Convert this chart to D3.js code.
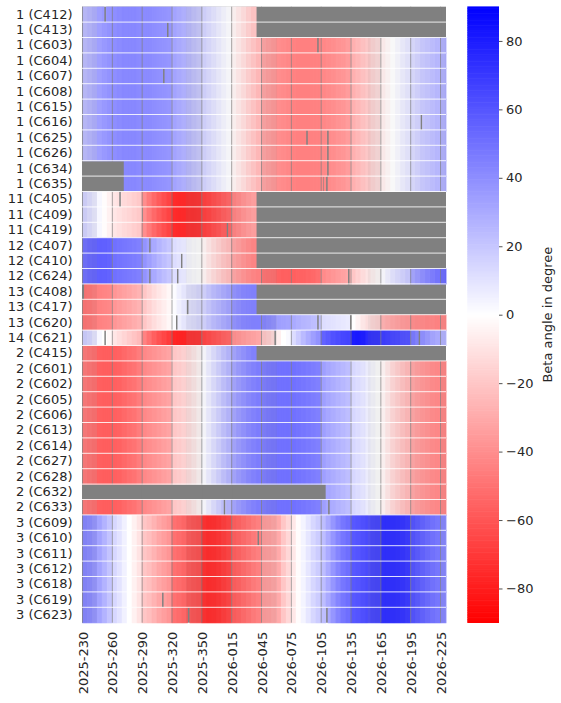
<!DOCTYPE html>
<html>
<head>
<meta charset="utf-8">
<script src="https://cdn.jsdelivr.net/npm/d3@7"></script>
<style>
  body { margin: 0; background: #fff; }
  svg { display: block; }
  text { font-family: "DejaVu Sans", sans-serif; }
</style>
</head>
<body>
<svg id="chart" width="561" height="703"></svg>
<script>
// rows: "<plane> (<satellite>)"
var rowNames = [
  "1 (C412)", "1 (C413)", "1 (C603)", "1 (C604)", "1 (C607)", "1 (C608)",
  "1 (C615)", "1 (C616)", "1 (C625)", "1 (C626)", "1 (C634)", "1 (C635)",
  "11 (C405)", "11 (C409)", "11 (C419)",
  "12 (C407)", "12 (C410)", "12 (C624)",
  "13 (C408)", "13 (C417)", "13 (C620)",
  "14 (C621)",
  "2 (C415)", "2 (C601)", "2 (C602)", "2 (C605)", "2 (C606)", "2 (C613)",
  "2 (C614)", "2 (C627)", "2 (C628)", "2 (C632)", "2 (C633)",
  "3 (C609)", "3 (C610)", "3 (C611)", "3 (C612)", "3 (C618)", "3 (C619)", "3 (C623)"
];

var nDays = 366;        // 2025-230 .. 2026-230
var sampleStep = 5;     // one beta value per 5 days
var tickLabels = ["2025-230", "2025-260", "2025-290", "2025-320", "2025-350", "2026-015",
  "2026-045", "2026-075", "2026-105", "2026-135", "2026-165", "2026-195", "2026-225"];
var tickEvery = 30;
var colorTicks = [-80, -60, -40, -20, 0, 20, 40, 60, 80];

// beta angle (deg) per orbit plane, every 5 days
var plane1 = [24, 26, 29, 34, 36, 38, 40, 41, 42, 42, 42, 41, 41, 41, 40, 39, 38, 37,
  32, 30, 28, 25, 22, 19, 16, 13, 10, 7, 4, 1, -4, -8, -12, -17, -21, -25,
  -33, -35, -37, -40, -41, -42, -44, -45, -45, -45, -44, -44, -42, -41, -40, -38, -37, -35,
  -28, -25, -22, -19, -15, -12, -6, -3, 0, 3, 6, 9, 13, 16, 19, 21, 23, 25, 28, 30];
var plane11 = [16, 12, 8, 3, -1, -5, -9, -11, -13, -15, -17, -19, -40, -47, -53, -58, -62, -66,
  -75, -76, -76, -76, -76, -75, -69, -67, -64, -61, -58, -55, -45, -42, -39, -36, -34, null,
  null, null, null, null, null, null, null, null, null, null, null, null, null, null, null, null, null, null,
  null, null, null, null, null, null, null, null, null, null, null, null, null, null, null, null, null, null, null, null];
var plane12 = [52, 54, 55, 56, 56, 55, 50, 49, 48, 47, 46, 45, 38, 34, 30, 26, 23, 20,
  12, 10, 8, 3, 1, 0, -4, -9, -13, -17, -21, -24, -32, -35, -38, -41, -43, -45,
  -50, -51, -52, -55, -56, -56, -56, -55, -55, -54, -53, -51, -41, -39, -37, -35, -33, -31,
  -20, -16, -12, -9, -5, -2, 2, 6, 10, 13, 16, 19, 32, 36, 40, 43, 46, 49, 53, 55];
var plane13 = [-50, -49, -47, -44, -43, -42, -37, -35, -33, -31, -29, -27, -20, -16, -12, -9, -6, -3,
  1, 5, 8, 11, 12, 14, 16, 20, 24, 27, 30, 33, 39, 41, 43, 44, 45, 45,
  44, 42, 40, 34, 33, 32, 30, 28, 26, 25, 23, 22, 12, 11, 10, 9, 8, 7,
  0, -4, -8, -11, -14, -16, -28, -30, -32, -34, -36, -37, -41, -42, -42, -43, -43, -44, -44, -45];
var plane14 = [18, 15, 10, 3, 0, -3, -9, -12, -15, -18, -21, -24, -44, -50, -56, -61, -65, -69,
  -77, -78, -78, -75, -75, -74, -67, -65, -62, -60, -57, -55, -40, -38, -36, -34, -33, -31,
  -20, -18, -14, -6, 0, 2, 12, 18, 24, 29, 34, 38, 55, 58, 61, 63, 65, 66,
  80, 81, 80, 76, 75, 74, 70, 68, 66, 65, 63, 62, 48, 44, 40, 36, 32, 30, 28, 27];
var plane2 = [-48, -50, -52, -56, -57, -57, -56, -55, -53, -51, -49, -46, -42, -40, -38, -36, -34, -32,
  -20, -18, -16, -12, -8, -4, 2, 7, 12, 17, 22, 26, 32, 36, 39, 42, 44, 46,
  47, 48, 49, 50, 50, 50, 50, 49, 48, 47, 46, 45, 34, 31, 29, 27, 25, 23,
  14, 12, 10, 6, 3, 0, -4, -9, -14, -18, -22, -25, -32, -35, -37, -39, -41, -42, -44, -45];
var plane3 = [44, 42, 38, 32, 27, 21, 14, 10, 5, 0, -5, -10, -20, -23, -27, -31, -34, -37,
  -50, -52, -54, -60, -62, -64, -74, -76, -75, -73, -70, -67, -58, -56, -53, -50, -47, -45,
  -36, -35, -33, -30, -20, -14, -8, -1, 4, 9, 14, 18, 23, 30, 37, 43, 48, 51,
  59, 60, 62, 64, 67, 68, 75, 75, 75, 74, 73, 71, 62, 59, 56, 53, 50, 48, 44, 42];

// day spans with sparse coverage (drawn muted)
var sparseSpans = [[0, 15], [104, 120], [180, 196], [287, 300], [361, 366]];

// missing data: [row, first day, end day)
var missingSpans = [
  ["1 (C412)", 22, 24], ["1 (C412)", 175, 366],
  ["1 (C413)", 85, 87], ["1 (C413)", 175, 366],
  ["1 (C603)", 236, 238], ["1 (C607)", 81, 83], ["1 (C616)", 340, 342],
  ["1 (C625)", 225, 227], ["1 (C625)", 246, 248], ["1 (C626)", 246, 248],
  ["1 (C634)", 0, 42], ["1 (C634)", 246, 248],
  ["1 (C635)", 0, 42], ["1 (C635)", 242, 243], ["1 (C635)", 245, 247],
  ["11 (C405)", 37, 39], ["11 (C409)", 60, 61], ["11 (C419)", 145, 147],
  ["12 (C407)", 67, 69], ["12 (C407)", 175, 366],
  ["12 (C410)", 99, 101], ["12 (C410)", 175, 366],
  ["12 (C624)", 67, 69], ["12 (C624)", 95, 97], ["12 (C624)", 267, 269],
  ["13 (C408)", 0, 2], ["13 (C408)", 175, 366],
  ["13 (C417)", 105, 107], ["13 (C417)", 175, 366],
  ["13 (C620)", 94, 96], ["13 (C620)", 236, 238], ["13 (C620)", 269, 271],
  ["14 (C621)", 22, 24], ["14 (C621)", 193, 195], ["14 (C621)", 338, 340],
  ["2 (C415)", 175, 366], ["2 (C632)", 0, 245],
  ["2 (C633)", 142, 144], ["2 (C633)", 247, 249],
  ["3 (C610)", 176, 178], ["3 (C619)", 80, 82],
  ["3 (C623)", 106, 108], ["3 (C623)", 245, 247]
];

var planeSeries = { "1": plane1, "11": plane11, "12": plane12, "13": plane13,
  "14": plane14, "2": plane2, "3": plane3 };

var svg = d3.select("#chart");
var textColor = "#262626";

var x = d3.scaleLinear().domain([0, nDays]).range([82, 446]);
var y = d3.scaleBand().domain(rowNames).range([6.7, 622.7]);
var color = d3.scaleLinear().domain([-90, 0, 90])
  .range(["#ff0000", "#ffffff", "#0000ff"]).clamp(true);

// NaN colour underneath everything
svg.append("rect")
  .attr("x", x(0)).attr("y", y.range()[0])
  .attr("width", x(nDays) - x(0)).attr("height", y.range()[1] - y.range()[0])
  .attr("fill", "#808080");

var cells = [];
rowNames.forEach(function(name) {
  var vals = planeSeries[name.split(" ")[0]];
  var gaps = missingSpans.filter(function(s) { return s[0] === name; });
  for (var d = 0; d < nDays; d++) {
    var v = vals[Math.floor(d / sampleStep)];
    if (v == null) continue;
    if (gaps.some(function(g) { return d >= g[1] && d < g[2]; })) continue;
    var sparse = sparseSpans.some(function(s) { return d >= s[0] && d < s[1]; });
    cells.push({ name: name, d: d, v: v, sparse: sparse });
  }
});

svg.append("g")
  .selectAll("rect")
  .data(cells)
  .enter().append("rect")
    .attr("x", function(c) { return x(c.d); })
    .attr("y", function(c) { return y(c.name); })
    .attr("width", function(c) { return x(c.d + 1) - x(c.d) + 0.5; })
    .attr("height", y.bandwidth() + 0.5)
    .attr("fill", function(c) { return color(c.v); })
    .attr("fill-opacity", function(c) { return c.sparse ? 0.85 : 1; });

// vertical lines at each date tick
var tickDays = tickLabels.map(function(t, i) { return i * tickEvery; });
svg.append("g")
  .selectAll("line")
  .data(tickDays)
  .enter().append("line")
    .attr("x1", function(d) { return x(d + 0.5); })
    .attr("x2", function(d) { return x(d + 0.5); })
    .attr("y1", y.range()[0]).attr("y2", y.range()[1])
    .attr("stroke", "#808080").attr("stroke-opacity", 0.7).attr("stroke-width", 1);

// thin white row separators
svg.append("g")
  .selectAll("line")
  .data(rowNames.slice(1))
  .enter().append("line")
    .attr("x1", x(0)).attr("x2", x(nDays))
    .attr("y1", function(n) { return y(n); })
    .attr("y2", function(n) { return y(n); })
    .attr("stroke", "#ffffff").attr("stroke-opacity", 0.85).attr("stroke-width", 1);

// y axis
var yAxis = svg.append("g")
  .attr("transform", "translate(" + x(0) + ",0)")
  .call(d3.axisLeft(y).tickSize(0).tickPadding(9.5));
yAxis.select(".domain").remove();
yAxis.selectAll("text").attr("font-size", 13).attr("fill", textColor)
  .style("font-family", "DejaVu Sans");

// x axis, rotated labels
var xAxis = svg.append("g")
  .attr("transform", "translate(0," + y.range()[1] + ")")
  .call(d3.axisBottom(x)
    .tickValues(tickDays.map(function(d) { return d + 0.5; }))
    .tickFormat(function(d, i) { return tickLabels[i]; })
    .tickSize(0));
xAxis.select(".domain").remove();
xAxis.selectAll("text")
  .attr("transform", "rotate(-90)")
  .attr("x", -9).attr("y", 0).attr("dy", "0.35em")
  .style("text-anchor", "end")
  .attr("font-size", 13).attr("fill", textColor)
  .style("font-family", "DejaVu Sans");

// colour bar
var cbX = 467.3, cbW = 31.7;
var cb = d3.scaleLinear().domain([-90, 90]).range([y.range()[1], y.range()[0]]);
var cbSteps = d3.range(-90, 90, 0.5);
svg.append("g")
  .selectAll("rect")
  .data(cbSteps)
  .enter().append("rect")
    .attr("x", cbX)
    .attr("y", function(v) { return cb(v + 0.5) - 0.3; })
    .attr("width", cbW)
    .attr("height", function(v) { return cb(v) - cb(v + 0.5) + 0.6; })
    .attr("fill", function(v) { return color(v + 0.25); });

var cbAxis = svg.append("g")
  .attr("transform", "translate(" + (cbX + cbW) + ",0)")
  .call(d3.axisRight(cb).tickValues(colorTicks)
    .tickFormat(function(v) { return String(v).replace("-", "\u2212"); })
    .tickSize(3.5).tickPadding(3.5));
cbAxis.select(".domain").remove();
cbAxis.selectAll("line").attr("stroke", textColor).attr("stroke-width", 0.8);
cbAxis.selectAll("text").attr("font-size", 13).attr("fill", textColor)
  .style("font-family", "DejaVu Sans");

svg.append("text")
  .attr("transform", "translate(552," + cb(0) + ") rotate(-90)")
  .attr("text-anchor", "middle")
  .attr("font-size", 13)
  .attr("fill", textColor)
  .text("Beta angle in degree");
</script>
</body>
</html>
